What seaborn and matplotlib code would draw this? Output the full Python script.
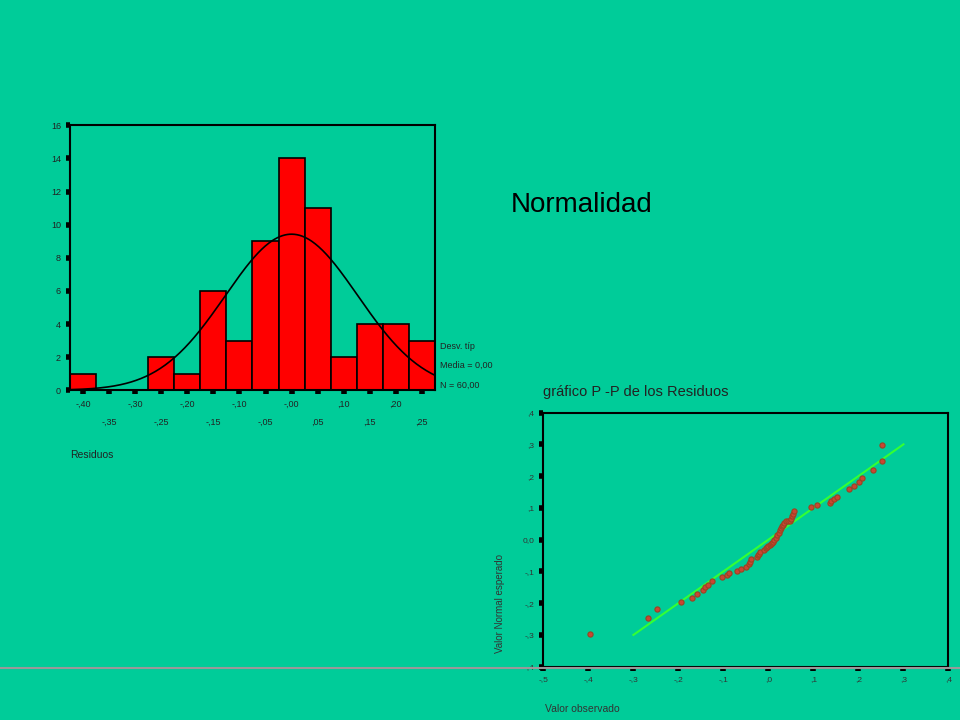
import numpy as np
import pandas as pd
import matplotlib
matplotlib.use("Agg")
import matplotlib.pyplot as plt
import seaborn as sns

bin_centers = [-0.40, -0.35, -0.30, -0.25, -0.20, -0.15, -0.10, -0.05, 0.00, 0.05, 0.10, 0.15, 0.20, 0.25]
counts = [1, 0, 0, 2, 1, 6, 3, 9, 14, 11, 2, 4, 4, 3]
hist_major_labels = ["-,40", "-,30", "-,20", "-,10", "-,00", ",10", ",20"]
hist_minor_labels = ["-,35", "-,25", "-,15", "-,05", ",05", ",15", ",25"]
fit_mean = 0.0
fit_sd = 0.127
n_total = 60

pp_observed = [-0.396, -0.268, -0.247, -0.195, -0.170, -0.159, -0.146, -0.140, -0.134, -0.125,
               -0.104, -0.092, -0.087, -0.070, -0.060, -0.050, -0.044, -0.040, -0.038, -0.025,
               -0.023, -0.020, -0.018, -0.010, -0.005, -0.003, 0.000, 0.003, 0.005, 0.008,
               0.010, 0.013, 0.016, 0.020, 0.023, 0.026, 0.028, 0.030, 0.032, 0.035,
               0.040, 0.044, 0.047, 0.050, 0.053, 0.055, 0.057, 0.095, 0.108, 0.136,
               0.140, 0.145, 0.152, 0.180, 0.191, 0.202, 0.208, 0.232, 0.253, 0.253]
pp_expected = [-0.297, -0.246, -0.219, -0.197, -0.184, -0.171, -0.158, -0.150, -0.142, -0.129,
               -0.119, -0.112, -0.106, -0.098, -0.091, -0.085, -0.078, -0.070, -0.062, -0.055,
               -0.047, -0.044, -0.040, -0.032, -0.026, -0.023, -0.020, -0.017, -0.014, -0.011,
               -0.008, -0.002, 0.006, 0.014, 0.022, 0.030, 0.038, 0.042, 0.046, 0.053,
               0.058, 0.060, 0.060, 0.066, 0.074, 0.082, 0.090, 0.104, 0.108, 0.116,
               0.122, 0.127, 0.134, 0.158, 0.170, 0.181, 0.193, 0.218, 0.246, 0.297]
pp_xticks = [-0.5, -0.4, -0.3, -0.2, -0.1, 0.0, 0.1, 0.2, 0.3, 0.4]
pp_xlabels = ["-,5", "-,4", "-,3", "-,2", "-,1", ",0", ",1", ",2", ",3", ",4"]
pp_yticks = [-0.4, -0.3, -0.2, -0.1, 0.0, 0.1, 0.2, 0.3, 0.4]
pp_ylabels = ["-,4", "-,3", "-,2", "-,1", "0,0", ",1", ",2", ",3", ",4"]

BG = "#00CC99"
plt.rcParams["font.family"] = "Liberation Sans"
fig = plt.figure(figsize=(9.6, 7.2), dpi=100, facecolor=BG)

# Histogram
ax = fig.add_axes([0.073, 0.458, 0.380, 0.368])
ax.set_facecolor(BG)
edges = [round(c - 0.025, 4) for c in bin_centers] + [round(bin_centers[-1] + 0.025, 4)]
df = pd.DataFrame({"x": bin_centers, "w": counts})
sns.histplot(data=df, x="x", weights="w", bins=edges, ax=ax, color="#FF0000",
             edgecolor="black", linewidth=1.2, alpha=1)
xs = np.linspace(edges[0], edges[-1], 300)
ys = n_total * 0.05 / (fit_sd * np.sqrt(2 * np.pi)) * np.exp(-0.5 * ((xs - fit_mean) / fit_sd) ** 2)
sns.lineplot(x=xs, y=ys, ax=ax, color="black", linewidth=1.2)
ax.set_xlim(edges[0], edges[-1])
ax.set_ylim(0, 16)
ax.set_yticks(range(0, 17, 2))
ax.set_yticklabels([str(v) for v in range(0, 17, 2)], fontsize=6.5, color="#222222")
ax.set_xticks(bin_centers[0::2])
ax.set_xticklabels(hist_major_labels, fontsize=6.5, color="#222222")
ax.set_xticks(bin_centers[1::2], minor=True)
ax.set_xticklabels(hist_minor_labels, minor=True, fontsize=6.5, color="#222222")
ax.tick_params(axis="both", which="both", direction="out", length=3, width=4, color="black")
ax.tick_params(axis="x", which="major", pad=4)
ax.tick_params(axis="x", which="minor", pad=17)
ax.set_xlabel("")
ax.set_ylabel("")
for s in ax.spines.values():
    s.set_linewidth(1.5)
    s.set_color("black")
fig.text(0.458, 0.519, "Desv. típ", fontsize=6.5, color="#222222", va="center")
fig.text(0.458, 0.492, "Media = 0,00", fontsize=6.5, color="#222222", va="center")
fig.text(0.458, 0.465, "N = 60,00", fontsize=6.5, color="#222222", va="center")
fig.text(0.073, 0.368, "Residuos", fontsize=7.5, color="#222222", va="center")

fig.text(0.532, 0.715, "Normalidad", fontsize=20, color="black", va="center")

# P-P plot
ax2 = fig.add_axes([0.566, 0.074, 0.422, 0.353])
ax2.set_facecolor(BG)
sns.lineplot(x=[-0.3, 0.3], y=[-0.3, 0.3], ax=ax2, color="#33FF33", linewidth=1.5)
sns.scatterplot(x=pp_observed, y=pp_expected, ax=ax2, color="#CC4433", edgecolor="#994422",
                s=14, linewidth=0.8, zorder=3)
ax2.set_xlim(-0.5, 0.4)
ax2.set_ylim(-0.4, 0.4)
ax2.set_xticks(pp_xticks)
ax2.set_xticklabels(pp_xlabels, fontsize=6, color="#333333")
ax2.set_yticks(pp_yticks)
ax2.set_yticklabels(pp_ylabels, fontsize=6, color="#333333")
ax2.tick_params(axis="both", direction="out", length=3, width=4, color="black")
for s in ax2.spines.values():
    s.set_linewidth(1.5)
    s.set_color("black")
ax2.set_xlabel("")
ax2.set_ylabel("Valor Normal esperado", fontsize=7, color="#333333")
ax2.yaxis.set_label_coords(-0.095, 0.25)
fig.text(0.566, 0.455, "gráfico P -P de los Residuos", fontsize=10.5, color="#222222", va="center")
fig.text(0.568, 0.015, "Valor observado", fontsize=7.5, color="#333333", va="center")

fig.add_artist(plt.Line2D([0, 1], [0.072, 0.072], color="#999999", linewidth=1.5,
                          transform=fig.transFigure))

fig.savefig("out.png", dpi=100, facecolor=BG)
